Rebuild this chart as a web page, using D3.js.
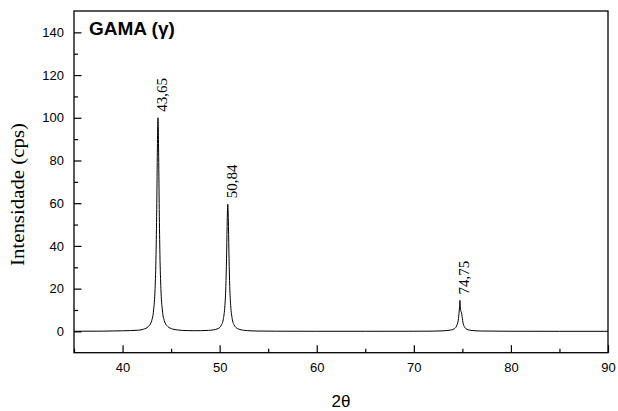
<!DOCTYPE html>
<html>
<head>
<meta charset="utf-8">
<script src="https://cdn.jsdelivr.net/npm/d3@7"></script>
<style>
  html, body { margin: 0; padding: 0; background: #fff; }
  svg { display: block; }
</style>
</head>
<body>
<svg id="chart" width="618" height="411"></svg>
<script>
// ---- data ----
const twoTheta = [35, 38, 40, 41.65, 42.15, 42.65, 43.0, 43.2, 43.35, 43.45, 43.52, 43.58, 43.62, 43.65, 43.68, 43.72, 43.78, 43.85, 43.95, 44.1, 44.3, 44.65, 45.15, 45.65, 46.65, 47.3, 48.0, 48.84, 49.34, 49.84, 50.19, 50.39, 50.54, 50.64, 50.71, 50.77, 50.81, 50.84, 50.87, 50.91, 50.97, 51.04, 51.14, 51.29, 51.49, 51.84, 52.34, 52.84, 53.84, 55.84, 60, 65, 70, 72, 73, 73.8, 74.2, 74.45, 74.6, 74.7, 74.75, 74.79, 74.83, 74.87, 74.92, 74.97, 75.03, 75.1, 75.2, 75.35, 75.6, 76, 77, 80, 85, 90];
const intensity = [0.05, 0.1, 0.25, 0.55, 1.0, 2.2, 5, 10, 20, 36, 57, 82, 96, 100, 96, 82, 57, 36, 20, 10, 5, 2.3, 1.1, 0.65, 0.35, 0.3, 0.32, 0.45, 0.67, 1.3, 3, 6, 12, 21, 34, 49, 57, 59.5, 57, 49, 34, 21, 12, 6, 3, 1.3, 0.6, 0.35, 0.15, 0.07, 0.03, 0.03, 0.05, 0.1, 0.25, 0.6, 1.3, 3, 6, 11, 14.5, 11.5, 9.6, 9.2, 8.6, 7, 5, 3.4, 2.2, 1.3, 0.7, 0.4, 0.15, 0.05, 0.02, 0.02];

const peakPositions = [43.65, 50.84, 74.75];
const peakHeights   = [100, 59.5, 14.5];
const peakLabels    = ["43,65", "50,84", "74,75"];

const xMajorTicks = [40, 50, 60, 70, 80, 90];
const xMinorTicks = [35, 45, 55, 65, 75, 85];
const yMajorTicks = [0, 20, 40, 60, 80, 100, 120, 140];
const yMinorTicks = [10, 30, 50, 70, 90, 110, 130];

const titleText = "GAMA (\u03B3)";
const xLabel = "2\u03B8";
const yLabel = "Intensidade (cps)";

// ---- layout ----
const svg = d3.select("#chart");
const L = 74, R = 608, T = 11, B = 352.7;

const x = d3.scaleLinear().domain([35, 90]).range([L, R]);
const y = d3.scaleLinear().domain([-10, 150]).range([B, T]);

const sans = "Liberation Sans, Arial, Helvetica, sans-serif";
const serif = "Liberation Serif, Times New Roman, Times, serif";

// curve
const pts = twoTheta.map((d, i) => [d, intensity[i]]);
svg.append("path")
  .datum(pts)
  .attr("fill", "none")
  .attr("stroke", "#000")
  .attr("stroke-width", 1)
  .attr("d", d3.line().x(d => x(d[0])).y(d => y(d[1])).curve(d3.curveMonotoneX));

// axes
function styleAxis(g) {
  g.select(".domain").remove();
  g.selectAll("line").attr("stroke", "#000").attr("stroke-width", 1.2);
  g.selectAll("text").attr("fill", "#000").style("font-family", sans).style("font-size", "13px");
}
svg.append("g").attr("transform", `translate(0,${B})`)
  .call(d3.axisBottom(x).tickValues(xMajorTicks).tickSize(-7.5).tickPadding(10).tickFormat(d3.format("d")))
  .call(styleAxis);
svg.append("g").attr("transform", `translate(0,${B})`)
  .call(d3.axisBottom(x).tickValues(xMinorTicks).tickSize(-4).tickFormat(""))
  .call(styleAxis);
svg.append("g").attr("transform", `translate(${L},0)`)
  .call(d3.axisLeft(y).tickValues(yMajorTicks).tickSize(-7.5).tickPadding(10).tickFormat(d3.format("d")))
  .call(styleAxis);
svg.append("g").attr("transform", `translate(${L},0)`)
  .call(d3.axisLeft(y).tickValues(yMinorTicks).tickSize(-4).tickFormat(""))
  .call(styleAxis);

// frame
svg.append("rect")
  .attr("x", L).attr("y", T).attr("width", R - L).attr("height", B - T)
  .attr("fill", "none").attr("stroke", "#000").attr("stroke-width", 1.3);

// peak labels
peakPositions.forEach((p, i) => {
  const px = x(p) + 9, py = y(peakHeights[i]) - 6;
  svg.append("text")
    .attr("transform", `translate(${px},${py}) rotate(-90)`)
    .attr("text-anchor", "start")
    .style("font-family", serif)
    .style("font-size", "15px")
    .attr("fill", "#000")
    .text(peakLabels[i]);
});

// title
svg.append("text")
  .attr("x", 89).attr("y", 35)
  .style("font-family", sans).style("font-size", "19px").style("font-weight", "bold")
  .attr("fill", "#000")
  .text(titleText);

// axis titles
svg.append("text")
  .attr("x", (L + R) / 2).attr("y", 407)
  .attr("text-anchor", "middle")
  .style("font-family", sans).style("font-size", "17px")
  .attr("fill", "#000")
  .text(xLabel);

svg.append("text")
  .attr("transform", `translate(24,194.5) rotate(-90)`)
  .attr("text-anchor", "middle")
  .style("font-family", serif).style("font-size", "18px")
  .attr("textLength", 143).attr("lengthAdjust", "spacingAndGlyphs")
  .attr("fill", "#000")
  .text(yLabel);
</script>
</body>
</html>
